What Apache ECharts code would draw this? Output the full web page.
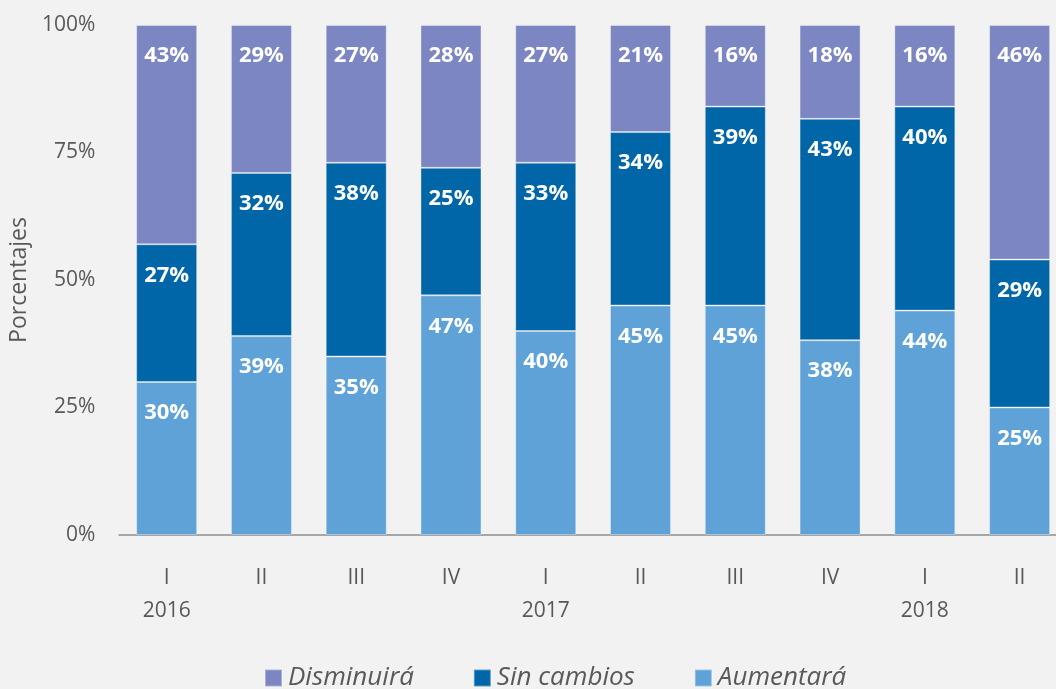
<!DOCTYPE html>
<html>
<head>
<meta charset="utf-8">
<script src="https://cdn.jsdelivr.net/npm/echarts@6/dist/echarts.min.js"></script>
<style>
  html, body { margin: 0; padding: 0; background: #f2f2f2; overflow: hidden; }
  #chart { width: 1068px; height: 689px; }
</style>
</head>
<body>
<div id="chart"></div>
<script>
// Trimestres (etiqueta del eje X)
const quarters = ['I', 'II', 'III', 'IV', 'I', 'II', 'III', 'IV', 'I', 'II'];
const years = ['2016', '', '', '', '2017', '', '', '', '2018', ''];

// Porcentajes por serie
const aumentara = [30, 39, 35, 47, 40, 45, 45, 38.2, 44, 25];
const sinCambios = [27, 32, 38, 25, 33, 34, 39, 43.4, 40, 29];
const disminuira = [43, 29, 27, 28, 27, 21, 16, 18.4, 16, 46];

const yTicks = [0, 25, 50, 75, 100];

const chart = echarts.init(document.getElementById('chart'));

const segLabel = {
  show: true,
  position: 'insideTop',
  distance: 20,
  color: '#ffffff',
  fontWeight: 'bold',
  fontSize: 22,
  fontFamily: 'Open Sans',
  formatter: p => Math.round(p.value) + '%'
};

const makeSeries = (name, data, color) => ({
  name: name,
  type: 'bar',
  stack: 'total',
  data: data,
  barWidth: 61,
  itemStyle: { color: color, borderColor: 'rgba(255,255,255,0.35)', borderWidth: 1 },
  label: segLabel
});

chart.setOption({
  backgroundColor: '#f2f2f2',
  animation: false,
  grid: { left: 117, top: 25, width: 950, height: 510 },
  legend: {
    top: 660,
    left: 259,
    itemGap: 59,
    itemWidth: 17,
    itemHeight: 17,
    icon: 'rect',
    data: ['Disminuirá', 'Sin cambios', 'Aumentará'],
    textStyle: { fontSize: 26, fontStyle: 'italic', color: '#595959', fontFamily: 'Open Sans', padding: [0, 0, 0, 1] }
  },
  xAxis: {
    type: 'category',
    data: quarters.map((q, i) => years[i] ? q + '\n' + years[i] : q),
    axisLine: { lineStyle: { color: '#a6a6a6', width: 2 } },
    axisTick: { show: false },
    axisLabel: {
      margin: 27,
      color: '#595959',
      fontSize: 21,
      lineHeight: 33,
      fontFamily: 'Open Sans'
    }
  },
  yAxis: {
    type: 'value',
    min: 0,
    max: 100,
    interval: 25,
    name: 'Porcentajes',
    nameLocation: 'middle',
    nameGap: 80,
    nameTextStyle: { fontSize: 23, color: '#595959', fontFamily: 'Open Sans' },
    splitLine: { show: false },
    axisLine: { show: false },
    axisTick: { show: false },
    axisLabel: {
      margin: 24,
      color: '#595959',
      fontSize: 21,
      fontFamily: 'Open Sans',
      formatter: v => yTicks.includes(v) ? v + '%' : ''
    }
  },
  series: [
    makeSeries('Aumentará', aumentara, '#5fa2d8'),
    makeSeries('Sin cambios', sinCambios, '#0066a8'),
    makeSeries('Disminuirá', disminuira, '#7b86c2')
  ]
});
</script>
</body>
</html>
